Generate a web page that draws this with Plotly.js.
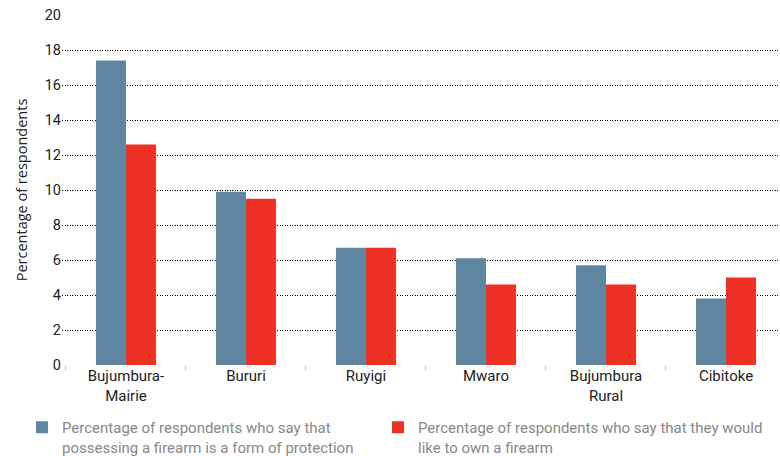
<!DOCTYPE html>
<html>
<head>
<meta charset="utf-8">
<script src="https://cdn.plot.ly/plotly-3.0.1.min.js"></script>
<style>html,body{margin:0;padding:0;background:#fff;}#chart{width:780px;height:456px;}</style>
</head>
<body>
<div id="chart"></div>
<script>
const categories = ["Bujumbura-<br>Mairie", "Bururi", "Ruyigi", "Mwaro", "Bujumbura<br>Rural", "Cibitoke"];
const protectionValues = [17.4, 9.9, 6.7, 6.1, 5.7, 3.8];
const ownValues = [12.6, 9.5, 6.7, 4.6, 4.6, 5.0];
const seriesNames = [
  "Percentage of respondents who say that<br>possessing a firearm is a form of protection",
  "Percentage of respondents who say that they would<br>like to own a firearm"
];
const yTicks = [0, 2, 4, 6, 8, 10, 12, 14, 16, 18, 20];

const FONT = "Roboto, 'Noto Sans', sans-serif";

const traces = [
  {type: "bar", x: categories, y: protectionValues, name: seriesNames[0],
   marker: {color: "#5E86A0"}, legend: "legend"},
  {type: "bar", x: categories, y: ownValues, name: seriesNames[1],
   marker: {color: "#EE3124"}, legend: "legend2"}
];

const legendFont = {family: FONT, size: 15, color: "#888"};
const legendTop = (456 - 411) / 456;

const layout = {
  width: 780, height: 456,
  margin: {l: 62, r: 0, t: 15, b: 91, autoexpand: false},
  paper_bgcolor: "#fff", plot_bgcolor: "#fff",
  font: {family: FONT, size: 14, color: "#222"},
  barmode: "group", bargap: 0.5, bargroupgap: 0,
  showlegend: true,
  legend: {orientation: "h", xref: "container", yref: "container",
           x: 22/780, xanchor: "left", y: legendTop, yanchor: "top",
           valign: "top", font: legendFont, itemclick: false},
  legend2: {orientation: "h", xref: "container", yref: "container",
           x: 378/780, xanchor: "left", y: legendTop, yanchor: "top",
           valign: "top", font: legendFont, itemclick: false},
  xaxis: {type: "category", range: [-0.533, 5.45], showgrid: false, zeroline: false,
          showline: false, ticks: "outside", tickson: "boundaries", ticklen: 4,
          tickcolor: "#bbb", tickfont: {family: FONT, size: 15, color: "#222"}},
  yaxis: {range: [0, 20], tickvals: yTicks, showgrid: true, gridcolor: "#000",
          griddash: "1px,1.5px", gridwidth: 1, zeroline: false, showline: false,
          ticks: "", tickfont: {family: FONT, size: 14.5, color: "#222"},
          title: {text: "Percentage of respondents", font: {family: "'Open Sans', 'Noto Sans', sans-serif", size: 14.5, color: "#222"}, standoff: 13}}
};

Plotly.newPlot("chart", traces, layout, {displayModeBar: false, staticPlot: true});
</script>
</body>
</html>
